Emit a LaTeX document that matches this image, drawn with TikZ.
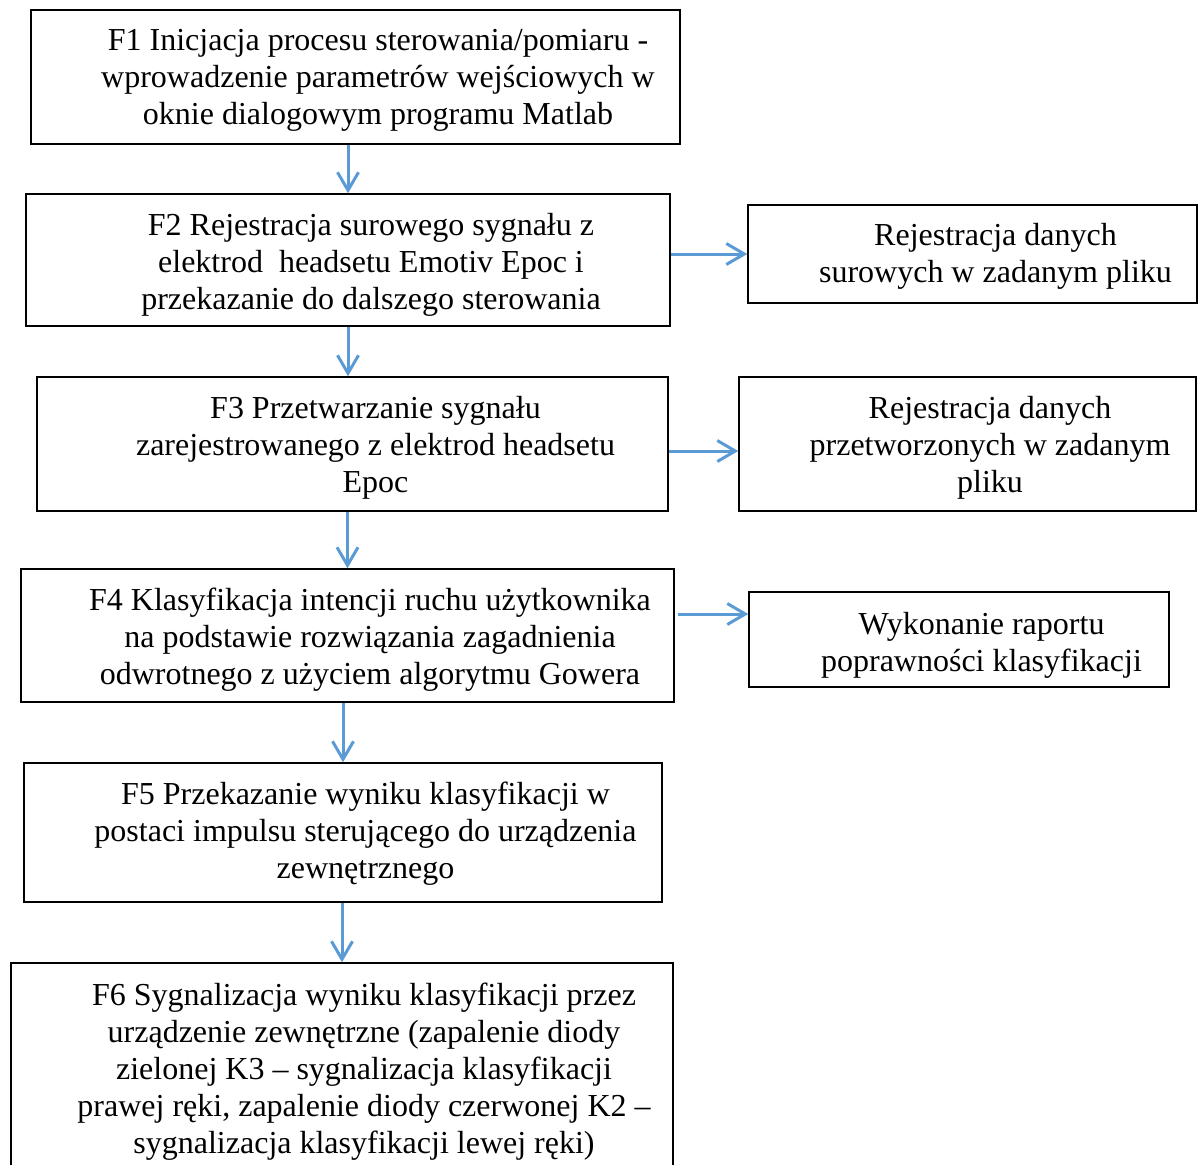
\documentclass[tikz,border=0pt]{standalone}
\usepackage{fontspec}
\setmainfont{Liberation Serif}
\usetikzlibrary{arrows.meta}
\definecolor{flowblue}{RGB}{91,155,213}
\begin{document}
\begin{tikzpicture}[x=0.5pt,y=-0.5pt,
  box/.style={draw=black,line width=0.75pt,inner sep=0pt,fill=none},
  txt/.style={align=center,inner sep=0pt,yshift=-2pt,font=\fontsize{16pt}{18.5pt}\selectfont},
  arr/.style={draw=flowblue,line width=1.5pt,-{Straight Barb[length=9pt,width=10.5pt,line width=1.5pt]}}]
\useasboundingbox (0,0) rectangle (1202,1164);

% main process boxes
\node[box,minimum width=324.5pt,minimum height=67pt]   (f1) at (355.5,77) {};
\node[box,minimum width=322pt,minimum height=66pt]     (f2) at (348,260) {};
\node[box,minimum width=315.5pt,minimum height=67pt]   (f3) at (352.5,444) {};
\node[box,minimum width=326.5pt,minimum height=66.5pt] (f4) at (347.5,635.5) {};
\node[box,minimum width=319pt,minimum height=69.5pt]   (f5) at (343,832.5) {};
\node[box,minimum width=331pt,minimum height=103.5pt]  (f6) at (342,1066.5) {};

% side boxes
\node[box,minimum width=224.5pt,minimum height=49pt]   (r1) at (972.5,254) {};
\node[box,minimum width=228.5pt,minimum height=67pt]   (r2) at (967.5,444) {};
\node[box,minimum width=210pt,minimum height=47.5pt]   (r3) at (959,639.5) {};

% texts
\node[txt] (t1) at (378,76) {F1 Inicjacja procesu sterowania/pomiaru -\\wprowadzenie parametrów wejściowych w\\oknie dialogowym programu Matlab};
\node[txt] (t2) at (371,260.5) {F2 Rejestracja surowego sygnału z\\elektrod\ \ headsetu Emotiv Epoc i\\przekazanie do dalszego sterowania};
\node[txt] (t3) at (375.5,443.5) {F3 Przetwarzanie sygnału\\zarejestrowanego z elektrod headsetu\\Epoc};
\node[txt] (t4) at (370,636) {F4 Klasyfikacja intencji ruchu użytkownika\\na podstawie rozwiązania zagadnienia\\odwrotnego z użyciem algorytmu Gowera};
\node[txt] (t5) at (365.5,829.5) {F5 Przekazanie wyniku klasyfikacji w\\postaci impulsu sterującego do urządzenia\\zewnętrznego};
\node[txt] (t6) at (364,1067.5) {F6 Sygnalizacja wyniku klasyfikacji przez\\urządzenie zewnętrzne (zapalenie diody\\zielonej K3 – sygnalizacja klasyfikacji\\prawej ręki, zapalenie diody czerwonej K2 –\\sygnalizacja klasyfikacji lewej ręki)};
\node[txt] (s1) at (995.5,252.5) {Rejestracja danych\\surowych w zadanym pliku};
\node[txt] (s2) at (990,444) {Rejestracja danych\\przetworzonych w zadanym\\pliku};
\node[txt] (s3) at (981.5,641) {Wykonanie raportu\\poprawności klasyfikacji};

% vertical flow
\draw[arr] (f2.north |- f1.south) -- (f2.north);
\draw[arr] (f2.south) -- (f2.south |- f3.north);
\draw[arr] (f4.north |- f3.south) -- (f4.north);
\draw[arr] (f5.north |- f4.south) -- (f5.north);
\draw[arr] (f6.north |- f5.south) -- (f6.north);

% side outputs
\draw[arr] (f2.east |- r1.west) -- (r1.west);
\draw[arr] ([yshift=-3.5pt]f3.east) -- ([yshift=-3.5pt]f3.east -| r2.west);
\draw[arr] ([xshift=1.5pt,yshift=10.75pt]f4.east) -- ([yshift=10.75pt]f4.east -| r3.west);
\end{tikzpicture}
\end{document}
